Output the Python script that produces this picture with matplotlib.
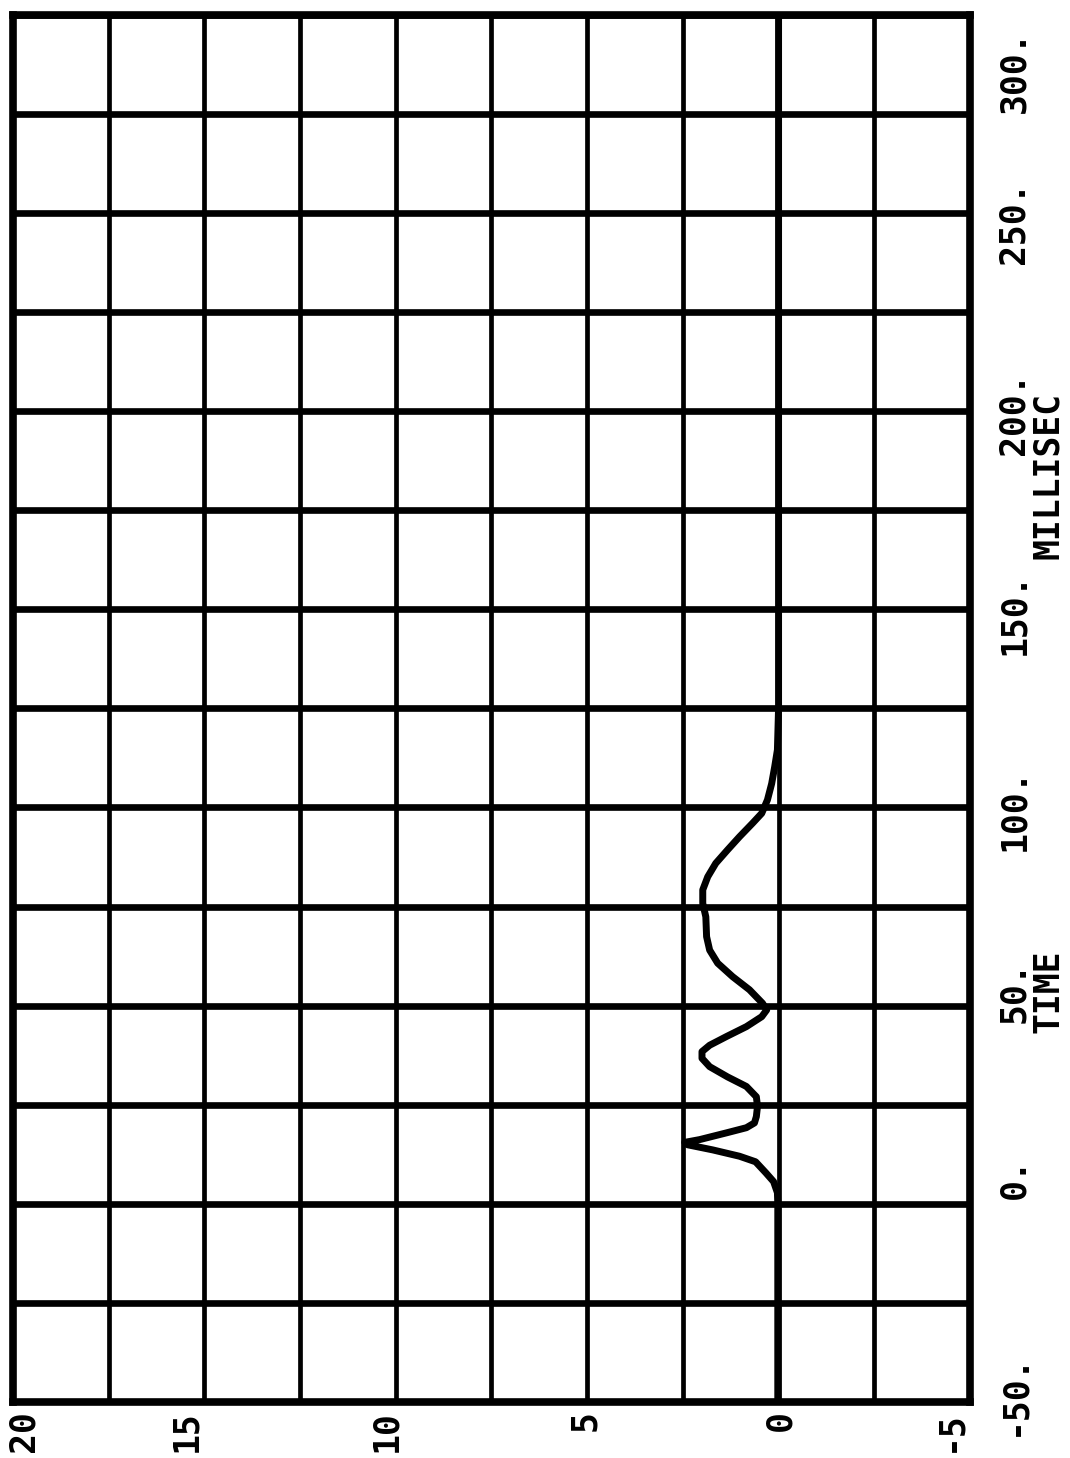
"""
Rotated plotter chart: barrier load cell trace vs time.
"""

import numpy as np
import matplotlib.pyplot as plt
import matplotlib.transforms as mtransforms

# trace (time in ms, load value)
time_ms = [-50, -10, 0, 2.8, 5.6, 7.8, 10.6, 12, 13.6, 14.9, 15.5, 16.2, 17.9,
           19.2, 20.4, 22, 24.6, 27, 29.6, 32, 34.6, 36.7, 38.4, 40, 42.2,
           44.7, 47.2, 48.9, 50.6, 54, 57.3, 60.7, 64, 67.4, 72.4, 75.8, 79.2,
           82.5, 85.9, 89.3, 92.6, 96, 98.5, 101.9, 106, 110.3, 114.5, 125,
           200, 300]
load = [0.02, 0.02, 0.02, 0.03, 0.13, 0.33, 0.6, 1.02, 1.72, 2.38, 2.45, 2.06,
        1.36, 0.84, 0.63, 0.58, 0.55, 0.58, 0.84, 1.33, 1.8, 2.0, 2.0, 1.8,
        1.36, 0.84, 0.44, 0.31, 0.42, 0.76, 1.2, 1.59, 1.8, 1.88, 1.9, 1.98,
        1.98, 1.85, 1.64, 1.33, 1.02, 0.68, 0.44, 0.29, 0.18, 0.1, 0.03, 0.0,
        0.0, 0.0]

# tick labels
time_ticks = [-50, 0, 50, 100, 150, 200, 250, 300]
time_tick_labels = ["-50.", "0.", "50.", "100.", "150.", "200.", "250.", "300."]
load_ticks = [20, 15, 10, 5, 0, -5]
load_tick_labels = ["20", "15", "10", "5", "0", "-5"]
time_name = "TIME"
time_unit = "MILLISEC"

# where the plotter actually put the labels (in data units)
time_label_pos = [-48, 6.4, 53.6, 99.6, 149, 199.4, 247.6, 285.6]
load_label_pos = [19.72, 15.48, 10.26, 5.06, -0.05, -4.5]
time_name_pos = 53.6
time_unit_pos = 183.8

fig = plt.figure(figsize=(10.70, 14.58), dpi=100)
ax = fig.add_axes([0.0121, 0.0384, 0.8944, 0.9516])

ax.plot(load, time_ms, color='k', lw=5, solid_joinstyle='round',
        solid_capstyle='round', zorder=3)

ax.set_xlim(20, -5)
ax.set_ylim(-50, 300)
ax.set_xticks(np.arange(-5, 20.1, 2.5))
ax.set_yticks(np.arange(-50, 300.1, 25))
ax.tick_params(length=0, labelbottom=False, labelleft=False)
ax.grid(axis='x', color='k', lw=3.4)
ax.grid(axis='y', color='k', lw=4.8)
for sp in ax.spines.values():
    sp.set_linewidth(5.5)

font = dict(family='DejaVu Sans Mono', weight='bold', size=25, color='k')

# time labels on the right, rotated like the plotter output
trans_r = mtransforms.blended_transform_factory(ax.transAxes, ax.transData)
for pos, lab in zip(time_label_pos, time_tick_labels):
    ax.text(1.046, pos, lab, transform=trans_r, rotation=90,
            ha='center', va='center', **font)
ax.text(1.082, time_name_pos, time_name, transform=trans_r, rotation=90,
        ha='center', va='center', **font)
ax.text(1.082, time_unit_pos, time_unit, transform=trans_r, rotation=90,
        ha='center', va='center', **font)

# load labels along the bottom
trans_b = mtransforms.blended_transform_factory(ax.transData, ax.transAxes)
for pos, lab in zip(load_label_pos, load_tick_labels):
    ax.text(pos, -0.006, lab, transform=trans_b, rotation=90,
            ha='center', va='top', **font)

fig.savefig("out.png", dpi=100)
